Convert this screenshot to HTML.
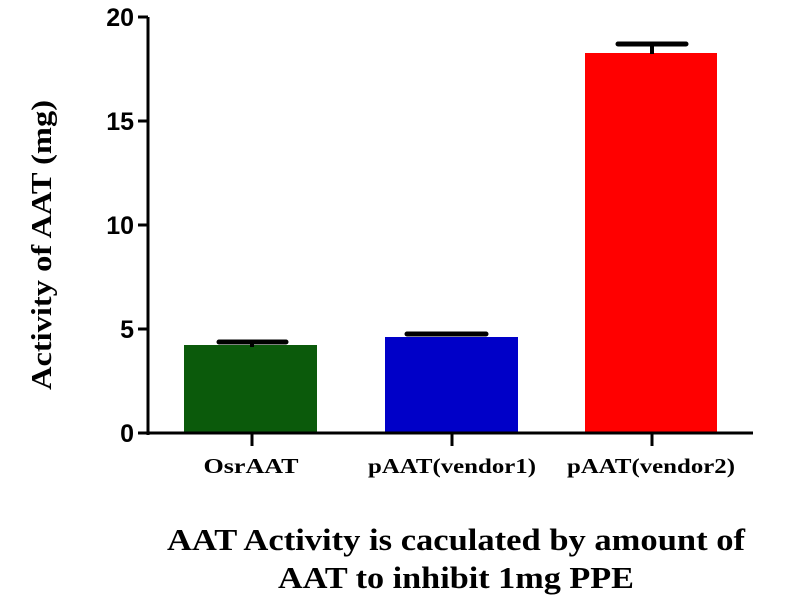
<!DOCTYPE html>
<html><head><style>body{margin:0;background:#fff}</style></head><body>
<svg width="800" height="600" xmlns="http://www.w3.org/2000/svg">
<rect width="800" height="600" fill="#fff"/>
<rect x="184" y="345" width="133" height="88" fill="#0b5a0b"/>
<rect x="385" y="337" width="133" height="96" fill="#0000c8"/>
<rect x="585" y="53" width="132" height="380" fill="#ff0000"/>
<g stroke="#000" stroke-width="5" stroke-linecap="round">
<line x1="219" y1="342" x2="286" y2="342"/>
<line x1="407" y1="334" x2="486" y2="334"/>
<line x1="618" y1="44" x2="686" y2="44"/>
</g>
<g stroke="#000" stroke-width="4">
<line x1="252" y1="342" x2="252" y2="347"/>
<line x1="652" y1="44" x2="652" y2="54"/>
</g>
<g stroke="#000" stroke-width="3">
<line x1="148" y1="17" x2="148" y2="435"/>
<line x1="138" y1="433" x2="753" y2="433"/>
<line x1="138" y1="17" x2="148" y2="17"/>
<line x1="138" y1="121" x2="148" y2="121"/>
<line x1="138" y1="225" x2="148" y2="225"/>
<line x1="138" y1="329" x2="148" y2="329"/>
<line x1="252" y1="433" x2="252" y2="446"/>
<line x1="452" y1="433" x2="452" y2="446"/>
<line x1="652" y1="433" x2="652" y2="446"/>
</g>
<g font-family="Liberation Sans, sans-serif" font-weight="bold" font-size="25" text-anchor="end">
<text x="134" y="26">20</text>
<text x="134" y="130">15</text>
<text x="134" y="234">10</text>
<text x="134" y="338">5</text>
<text x="134" y="442">0</text>
</g>
<g font-family="Liberation Serif, serif" font-weight="bold" font-size="21" text-anchor="middle">
<text x="251" y="473" textLength="95" lengthAdjust="spacingAndGlyphs">OsrAAT</text>
<text x="452" y="473" textLength="168" lengthAdjust="spacingAndGlyphs">pAAT(vendor1)</text>
<text x="651" y="473" textLength="168" lengthAdjust="spacingAndGlyphs">pAAT(vendor2)</text>
</g>
<text transform="translate(51,245) rotate(-90)" font-family="Liberation Serif, serif" font-weight="bold" font-size="28" text-anchor="middle" textLength="290" lengthAdjust="spacingAndGlyphs">Activity of AAT  (mg)</text>
<g font-family="Liberation Serif, serif" font-weight="bold" font-size="31" text-anchor="middle">
<text x="456" y="550" textLength="578" lengthAdjust="spacingAndGlyphs">AAT Activity is caculated by  amount of</text>
<text x="456" y="588" textLength="356" lengthAdjust="spacingAndGlyphs">AAT to inhibit 1mg PPE</text>
</g>
</svg>
</body></html>
